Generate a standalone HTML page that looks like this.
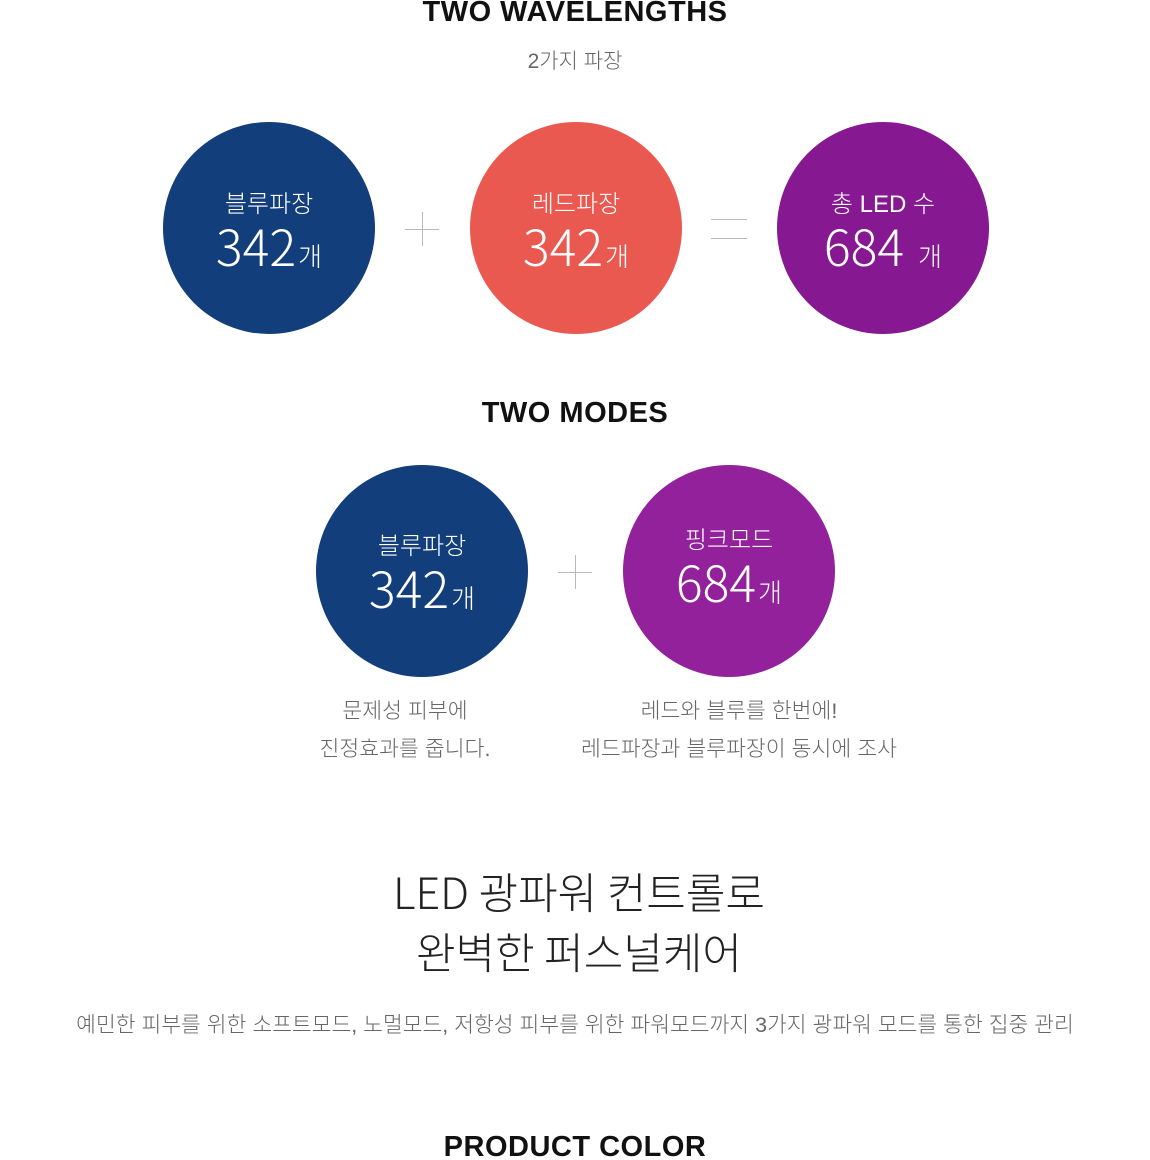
<!DOCTYPE html>
<html><head><meta charset="utf-8"><style>
html,body{margin:0;padding:0;width:1150px;height:1160px;background:#fff;overflow:hidden;position:relative;font-family:"Liberation Sans","Noto Sans CJK KR",sans-serif}
.t{position:absolute;left:0;width:1150px;text-align:center;white-space:nowrap}
.h{font-weight:bold;font-size:29px;color:#111;letter-spacing:0.5px;line-height:34px}
.c{position:absolute;width:212px;height:212px;border-radius:50%;color:#fff}
.c .l{position:absolute;left:0;width:100%;text-align:center;font-size:24px;line-height:30px;font-weight:300}
.c .n{position:absolute;left:0;width:100%;text-align:center;font-size:50px;line-height:56px;font-weight:300;font-family:"Noto Sans CJK KR","Liberation Sans",sans-serif}
.c .n small{font-size:26px;margin-left:2px}
.ln{position:absolute;background:#b8b8b8}
.cap{position:absolute;text-align:center;font-size:21.6px;color:#666;line-height:38px;font-weight:300;white-space:nowrap}
</style></head><body>
<div class="t h" style="top:-5px">TWO WAVELENGTHS</div>
<div class="t" style="top:48px;font-size:21px;color:#666;font-weight:300;line-height:28px">2가지 파장</div>

<div class="c" style="left:163px;top:122px;background:#123e7b">
<div class="l" style="top:68px">블루파장</div><div class="n" style="top:95px">342<small>개</small></div></div>
<div class="ln" style="left:405px;top:229px;width:34px;height:1px"></div>
<div class="ln" style="left:422px;top:212px;width:1px;height:34px"></div>
<div class="c" style="left:470px;top:122px;background:#ea5950">
<div class="l" style="top:68px">레드파장</div><div class="n" style="top:95px">342<small>개</small></div></div>
<div class="ln" style="left:711px;top:219px;width:36px;height:1px"></div>
<div class="ln" style="left:711px;top:238px;width:36px;height:1px"></div>
<div class="c" style="left:777px;top:122px;background:#861892">
<div class="l" style="top:68px">총 LED 수</div><div class="n" style="top:95px">684<small style="margin-left:14px">개</small></div></div>

<div class="t h" style="top:396px">TWO MODES</div>

<div class="c" style="left:316px;top:465px;background:#123e7b">
<div class="l" style="top:67px">블루파장</div><div class="n" style="top:94px">342<small>개</small></div></div>
<div class="ln" style="left:558px;top:572px;width:34px;height:1px"></div>
<div class="ln" style="left:575px;top:555px;width:1px;height:34px"></div>
<div class="c" style="left:623px;top:465px;background:#93219c">
<div class="l" style="top:61px">핑크모드</div><div class="n" style="top:88px">684<small>개</small></div></div>

<div class="cap" style="left:235px;width:340px;top:692px">문제성 피부에<br>진정효과를 줍니다.</div>
<div class="cap" style="left:539px;width:400px;top:692px">레드와 블루를 한번에!<br>레드파장과 블루파장이 동시에 조사</div>

<div class="t" style="top:861px;font-size:43px;line-height:60px;color:#222;font-weight:300;font-family:'Noto Sans CJK KR','Liberation Sans',sans-serif;left:4px">LED 광파워 컨트롤로<br>완벽한 퍼스널케어</div>
<div class="t" style="top:1011px;font-size:21.5px;color:#666;line-height:28px;font-weight:300">예민한 피부를 위한 소프트모드, 노멀모드, 저항성 피부를 위한 파워모드까지 3가지 광파워 모드를 통한 집중 관리</div>

<div class="t h" style="top:1130px">PRODUCT COLOR</div>
</body></html>
